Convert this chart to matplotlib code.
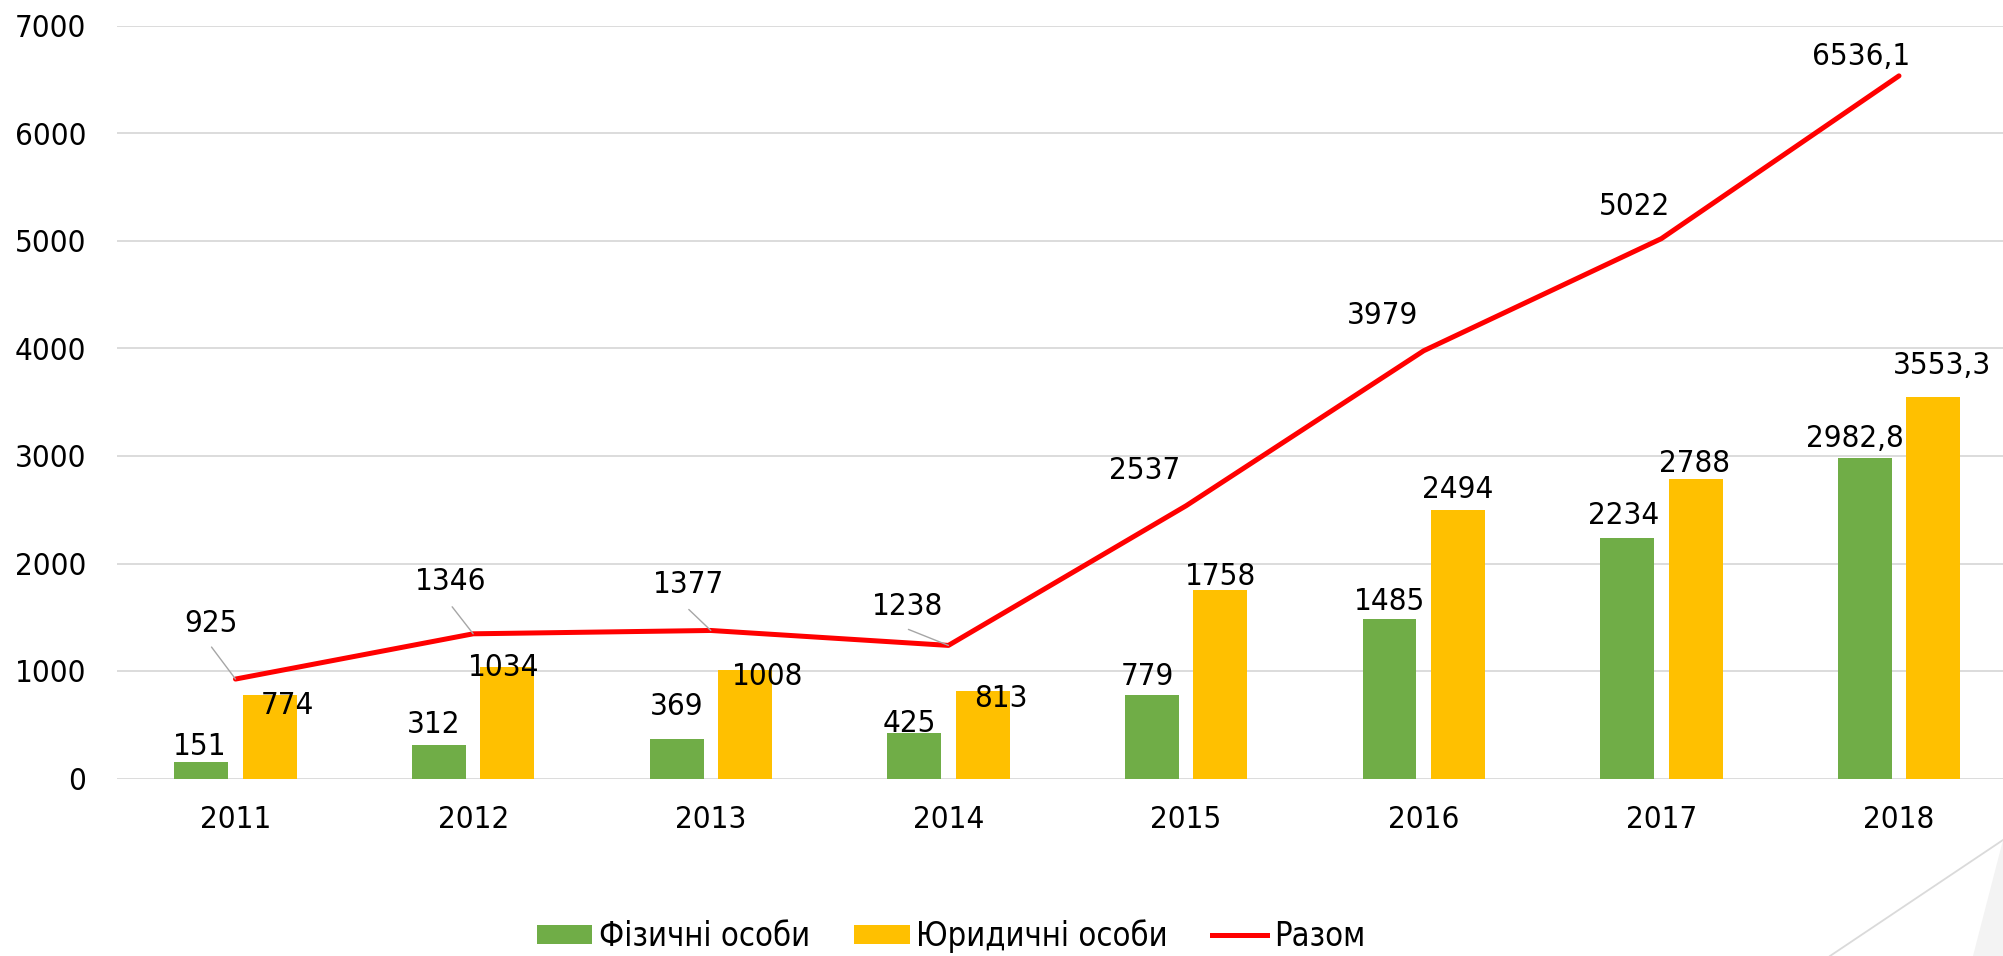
import matplotlib
matplotlib.use("Agg")
import matplotlib.pyplot as plt
from matplotlib.patches import Patch, Polygon
from matplotlib.lines import Line2D
from matplotlib import font_manager as fm
import numpy as np

# ---- data ----
years = ["2011", "2012", "2013", "2014", "2015", "2016", "2017", "2018"]
fiz = [151, 312, 369, 425, 779, 1485, 2234, 2982.8]
yur = [774, 1034, 1008, 813, 1758, 2494, 2788, 3553.3]
total = [925, 1346, 1377, 1238, 2537, 3979, 5022, 6536.1]
series_names = ["Фізичні особи", "Юридичні особи", "Разом"]
y_ticks = [0, 1000, 2000, 3000, 4000, 5000, 6000, 7000]

# ---- label layout (pixel offsets of label centre from the mark anchor) ----
fiz_off = [(-2, 16), (-5, 20), (0, 32), (-5, 9), (-4, 18), (0, 17), (-4, 23), (-10, 19)]
yur_off = [(18, -10), (-4, 0), (23, -6), (18, -7), (0, 13), (0, 21), (-1, 15), (9, 31)]
tot_off = [(-25, 56), (-22, 52), (-22, 46), (-41, 39), (-41, 35), (-41, 35), (-27, 32), (-38, 19)]
leader_start = {0: (-24, 32), 1: (-21, 27), 2: (-22, 21), 3: (-40, 16)}

GREEN = "#70AD47"
YELLOW = "#FFC000"
RED = "#FF0000"
GRID = "#D9D9D9"

# pick a narrow humanist font (DejaVu Sans Condensed if installed)
cond_path = fm.findfont(fm.FontProperties(family="DejaVu Sans", stretch="condensed"),
                        fallback_to_default=True)
if "ondensed" in cond_path:
    plt.rcParams["font.family"] = ["DejaVu Sans"]
    plt.rcParams["font.stretch"] = "condensed"
else:
    plt.rcParams["font.family"] = ["Liberation Sans", "DejaVu Sans"]

FS = 22.5
LFS = 23.5

W, H = 2003, 956
fig = plt.figure(figsize=(W / 100, H / 100), dpi=100)

# decorative slide shapes bottom-right
fig.patches.append(Polygon([(1973 / W, 0), (1.0, (H - 840) / H), (1.0, 0)],
                           closed=True, transform=fig.transFigure,
                           facecolor="#F3F3F3", edgecolor="none", zorder=0))
fig.lines.append(Line2D([1830 / W, 1.0], [0, (H - 840) / H], transform=fig.transFigure,
                        color="#DADADA", lw=1.3, zorder=0))

left = 116.7 / W
bottom = (H - 778.5) / H
height = (778.5 - 26) / H
ax = fig.add_axes([left, bottom, 1.0 - left, height])
ax.patch.set_alpha(0)

x = np.arange(len(years))
bw = 0.227
off = 0.144
ax.bar(x - off, fiz, width=bw, color=GREEN, zorder=3)
ax.bar(x + off, yur, width=bw, color=YELLOW, zorder=3)
ax.plot(x, total, color=RED, lw=3.6, zorder=4, solid_joinstyle="round",
        solid_capstyle="round")

ax.set_xlim(-0.5, 7 + (W - 1899) / 237.6)
ax.set_ylim(0, 7000)
ax.set_yticks(y_ticks)
ax.set_xticks(x)
ax.set_xticklabels(years)
ax.grid(axis="y", color=GRID, lw=1.3, zorder=0)
ax.set_axisbelow(True)
for s in ax.spines.values():
    s.set_visible(False)
ax.tick_params(axis="both", length=0, labelsize=FS, colors="black")
ax.tick_params(axis="y", pad=22)
ax.tick_params(axis="x", pad=19)


def fmt(v):
    if float(v).is_integer():
        return str(int(v))
    return ("%.1f" % v).replace(".", ",")


lab_kw = dict(textcoords="offset pixels", ha="center", va="center",
              fontsize=FS, color="black", zorder=6)
for i in range(len(years)):
    ax.annotate(fmt(fiz[i]), xy=(x[i] - off, fiz[i]), xytext=fiz_off[i], **lab_kw)
    ax.annotate(fmt(yur[i]), xy=(x[i] + off, yur[i]), xytext=yur_off[i], **lab_kw)
    ax.annotate(fmt(total[i]), xy=(x[i], total[i]), xytext=tot_off[i], **lab_kw)
    if i in leader_start:
        ax.annotate("", xy=(x[i], total[i]), xytext=leader_start[i],
                    textcoords="offset pixels",
                    arrowprops=dict(arrowstyle="-", color="#A6A6A6", lw=1.0,
                                    shrinkA=0, shrinkB=0), zorder=5)

handles = [Patch(facecolor=GREEN, edgecolor="none"),
           Patch(facecolor=YELLOW, edgecolor="none"),
           Line2D([0], [0], color=RED, lw=3.6)]
fig.legend(handles, series_names, loc="center", bbox_to_anchor=(951 / W, 1 - 936 / H),
           ncol=3, frameon=False, fontsize=LFS, handlelength=1.7, handleheight=0.55,
           handletextpad=0.2, columnspacing=1.35, borderpad=0)

fig.savefig("out.png", dpi=100)
